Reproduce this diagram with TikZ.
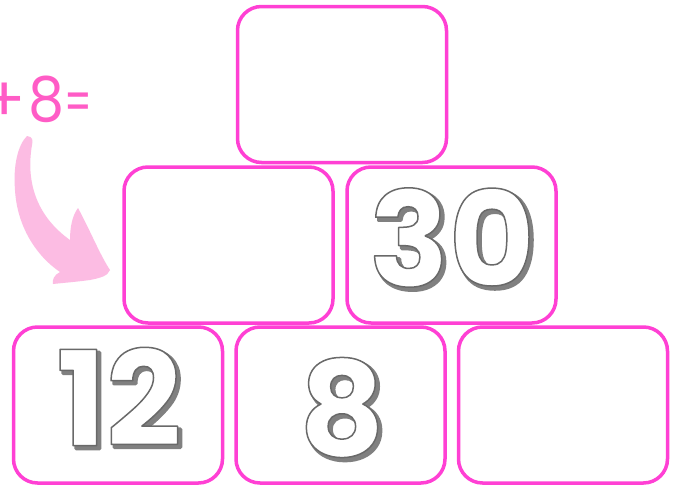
\documentclass[tikz,border=0pt]{standalone}
\usepackage{fontspec}
\newfontfamily\numfont{Poppins}
\definecolor{boxpink}{RGB}{255,64,212}
\definecolor{textpink}{RGB}{255,92,198}
\definecolor{arrowpink}{RGB}{252,188,227}
\definecolor{shadowgray}{RGB}{128,128,128}
\tikzset{
  cell/.style={draw=boxpink, line width=3.5pt, fill=white, rounded corners=24pt,
    minimum width=209pt, minimum height=156pt, inner sep=0pt},
  numtxt/.style={inner sep=0pt, font=\numfont\bfseries\fontsize{132}{132}\selectfont},
}
\newcommand\outlined[1]{\special{pdf:literal direct 0.41 G 1.5 w 1 j 2 Tr}#1\special{pdf:literal direct 0 Tr}}
\newcommand\shadowed[1]{\special{pdf:literal direct 0.5 G 3.5 w 1 j 2 Tr}#1\special{pdf:literal direct 0 Tr}}
\newcommand\bubble[1]{\makebox[0pt][l]{\kern3pt\raisebox{-3pt}{\color{shadowgray}\shadowed{#1}}}{\color{white}\outlined{#1}}}
\begin{document}
\begin{tikzpicture}[x=1pt,y=-1pt]
\fill[white] (0,0) rectangle (678,488);
\useasboundingbox (0,0) rectangle (678,488);
% boxes
\node[cell] (top) at (342,84.5) {};
\node[cell] (ml) at (228.5,245) {};
\node[cell] (mr) at (451.5,245) {};
\node[cell] (bl) at (118,405) {};
\node[cell] (bm) at (340.5,405) {};
\node[cell] (br) at (563,405) {};
% numbers
\node[numtxt] (n30) at (452,239) {\bubble{30}};
\node[numtxt] (n12) at (119,398) {\bubble{12}};
\node[numtxt] (n8) at (342,409) {\bubble{8}};
% +8=
\node[inner sep=0pt, anchor=base east, text=textpink, font=\numfont\fontsize{62}{62}\selectfont] (eq) at (92,121) {+\kern2pt\scalebox{0.92}[1]{8}\kern0pt\scalebox{0.62}[0.9]{=}};
% curved arrow
\fill[arrowpink] (27,136) .. controls (33,137) and (33,140) .. (32,145)
  .. controls (26,180) and (35,215) .. (70,240)
  .. controls (70,228) and (72,216) .. (78,208)
  .. controls (90,230) and (100,255) .. (110,270)
  .. controls (108,276) and (100,278) .. (90,280)
  .. controls (75,282) and (62,283) .. (53,284)
  .. controls (52,280) and (54,275) .. (60,272)
  .. controls (35,255) and (17,225) .. (15,190)
  .. controls (13,165) and (18,145) .. (27,136) -- cycle;
\end{tikzpicture}
\end{document}
